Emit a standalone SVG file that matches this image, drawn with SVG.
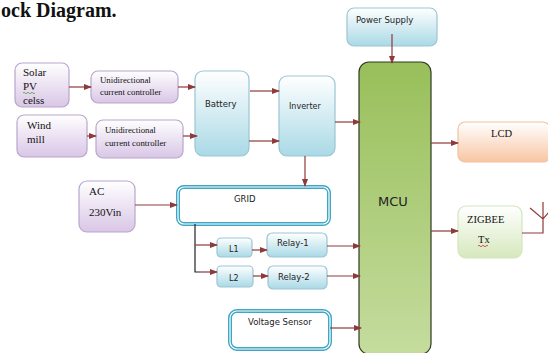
<svg xmlns="http://www.w3.org/2000/svg" width="548" height="353" viewBox="0 0 548 353">
<defs>
<linearGradient id="gLil" x1="0" y1="0" x2="0" y2="1"><stop offset="0" stop-color="#ffffff"/><stop offset="1" stop-color="#d9c6e6"/></linearGradient>
<linearGradient id="gBlue" x1="0" y1="0" x2="0" y2="1"><stop offset="0" stop-color="#ffffff"/><stop offset="1" stop-color="#a9d9e6"/></linearGradient>
<linearGradient id="gGreen" x1="0" y1="0" x2="0" y2="1"><stop offset="0" stop-color="#98bf5a"/><stop offset="1" stop-color="#c5dc9e"/></linearGradient>
<linearGradient id="gOrange" x1="0" y1="0" x2="0" y2="1"><stop offset="0" stop-color="#ffffff"/><stop offset="1" stop-color="#f8c6a2"/></linearGradient>
<linearGradient id="gLGreen" x1="0" y1="0" x2="0" y2="1"><stop offset="0" stop-color="#ffffff"/><stop offset="1" stop-color="#d6e8bd"/></linearGradient>
<marker id="ah" markerWidth="8" markerHeight="6" refX="7" refY="3" orient="auto" markerUnits="userSpaceOnUse"><path d="M0,0 L8,3 L0,6 Z" fill="#8e3a3a"/></marker>
</defs>
<style>
.lil{fill:url(#gLil);stroke:#b9a6cc;stroke-width:1.2}
.blue{fill:url(#gBlue);stroke:#9cc5d3;stroke-width:1.2}
.dbl{fill:#fff;stroke:#3fa7c4;stroke-width:4}
.dbli{fill:none;stroke:#fff;stroke-width:1.2}
.ser{font-family:"Liberation Serif",serif;fill:#111}
.san{font-family:"DejaVu Sans","Liberation Sans",sans-serif;fill:#222}
.c{stroke:#8e3a3a;stroke-width:1.2;fill:none}
.k{stroke:#222;stroke-width:1.2;fill:none}
</style>
<text x="1" y="17" class="ser" font-size="20" font-weight="bold">ock Diagram.</text>

<g id="solar"><rect x="15" y="63" width="54" height="44" rx="7" class="lil"/>
<text x="23" y="76" class="ser" font-size="11">Solar</text>
<text x="23" y="90" class="ser" font-size="11">PV</text>
<path d="M23,93 q1,-1.5 2,0 t2,0 t2,0 t2,0 t2,0 t2,0" stroke="#5a9a3a" stroke-width="0.8" fill="none"/>
<text x="23" y="104" class="ser" font-size="11">celss</text></g>

<g id="ucc1"><rect x="91" y="71" width="87" height="32" rx="7" class="lil"/>
<text x="100" y="83" class="ser" font-size="8.8">Unidirectional</text>
<text x="100" y="95" class="ser" font-size="8.8">current controller</text></g>

<g id="wind"><rect x="17" y="115" width="70" height="42" rx="7" class="lil"/>
<text x="27" y="129" class="ser" font-size="11">Wind</text>
<text x="27" y="143" class="ser" font-size="11">mill</text></g>

<g id="ucc2"><rect x="96" y="120" width="87" height="38" rx="7" class="lil"/>
<text x="105" y="133" class="ser" font-size="8.8">Unidirectional</text>
<text x="105" y="146" class="ser" font-size="8.8">current controller</text></g>

<g id="battery"><rect x="195" y="71" width="54" height="85" rx="8" class="blue"/>
<text x="205" y="107" class="san" font-size="8.5">Battery</text></g>

<g id="inverter"><rect x="279" y="76" width="56" height="80" rx="8" class="blue"/>
<text x="289" y="109" class="san" font-size="8">Inverter</text></g>

<g id="power"><rect x="347" y="8" width="90" height="38" rx="7" class="blue"/>
<text x="356" y="23" class="san" font-size="8.5">Power Supply</text></g>

<g id="mcu"><rect x="359" y="62" width="72" height="292" rx="10" fill="url(#gGreen)" stroke="#2e3a22" stroke-width="1.2"/>
<text x="378" y="206" class="san" font-size="13">MCU</text></g>

<g id="lcd"><rect x="458" y="122" width="92" height="40" rx="7" fill="url(#gOrange)" stroke="#f0c2a2" stroke-width="1.2"/>
<text x="491" y="137" class="ser" font-size="10.5">LCD</text></g>

<g id="zigbee"><rect x="458" y="206" width="64" height="52" rx="8" fill="url(#gLGreen)" stroke="#d3e5bd" stroke-width="1.2"/>
<text x="467" y="223" class="ser" font-size="10.5">ZIGBEE</text>
<text x="478" y="243" class="ser" font-size="10.5">Tx</text>
<path d="M478,246 q1,-1.5 2,0 t2,0 t2,0 t2,0 t2,0" stroke="#c33" stroke-width="0.8" fill="none"/></g>

<g id="antenna"><path d="M522,233 H543 V202 M530,208 L543,219 L549,212" class="c"/></g>

<g id="ac"><rect x="79" y="181" width="56" height="51" rx="8" class="lil"/>
<text x="89" y="195" class="ser" font-size="11">AC</text>
<text x="89" y="216" class="ser" font-size="11">230Vin</text></g>

<g id="grid"><rect x="178" y="187" width="151" height="37" rx="6" class="dbl"/><rect x="178" y="187" width="151" height="37" rx="6" class="dbli"/>
<text x="234" y="202" class="san" font-size="8.5">GRID</text></g>

<g id="l1"><rect x="217" y="238" width="35" height="19" rx="4" class="blue"/>
<text x="229" y="252" class="san" font-size="8">L1</text></g>
<g id="relay1"><rect x="267" y="233" width="60" height="24" rx="5" class="blue"/>
<text x="277" y="246" class="san" font-size="8.5">Relay-1</text></g>
<g id="l2"><rect x="217" y="266" width="36" height="21" rx="4" class="blue"/>
<text x="229" y="281" class="san" font-size="8">L2</text></g>
<g id="relay2"><rect x="268" y="266" width="59" height="23" rx="5" class="blue"/>
<text x="278" y="280" class="san" font-size="8.5">Relay-2</text></g>

<g id="vsensor"><rect x="230" y="311" width="100" height="38" rx="7" class="dbl"/><rect x="230" y="311" width="100" height="38" rx="7" class="dbli"/>
<text x="248" y="325" class="san" font-size="8.5">Voltage Sensor</text></g>

<g id="connectors">
<line x1="69" y1="87" x2="91" y2="87" class="c" marker-end="url(#ah)"/>
<line x1="178" y1="87" x2="195" y2="87" class="c" marker-end="url(#ah)"/>
<line x1="87" y1="136" x2="96" y2="136" class="c" marker-end="url(#ah)"/>
<line x1="183" y1="136" x2="197" y2="136" class="c" marker-end="url(#ah)"/>
<line x1="250" y1="91" x2="279" y2="91" class="c" marker-end="url(#ah)"/>
<line x1="249" y1="141" x2="279" y2="141" class="c" marker-end="url(#ah)"/>
<line x1="335" y1="122" x2="360" y2="122" class="c" marker-end="url(#ah)"/>
<line x1="305" y1="156" x2="305" y2="186" class="c" marker-end="url(#ah)"/>
<line x1="392" y1="34" x2="392" y2="63" class="c" marker-end="url(#ah)"/>
<line x1="431" y1="143" x2="458" y2="143" class="c" marker-end="url(#ah)"/>
<line x1="431" y1="231" x2="458" y2="231" class="c" marker-end="url(#ah)"/>
<line x1="135" y1="205" x2="177" y2="205" class="c" marker-end="url(#ah)"/>
<path d="M195,224 V272 H201" class="k"/>
<line x1="195" y1="245" x2="217" y2="245" class="c" marker-end="url(#ah)"/>
<line x1="201" y1="272" x2="217" y2="272" class="c" marker-end="url(#ah)"/>
<line x1="252" y1="250" x2="267" y2="250" class="c" marker-end="url(#ah)"/>
<line x1="253" y1="276" x2="268" y2="276" class="c" marker-end="url(#ah)"/>
<line x1="327" y1="246" x2="360" y2="246" class="c" marker-end="url(#ah)"/>
<line x1="327" y1="276" x2="360" y2="276" class="c" marker-end="url(#ah)"/>
<line x1="330" y1="328" x2="361" y2="328" class="c" marker-end="url(#ah)"/>
</g>
</svg>
